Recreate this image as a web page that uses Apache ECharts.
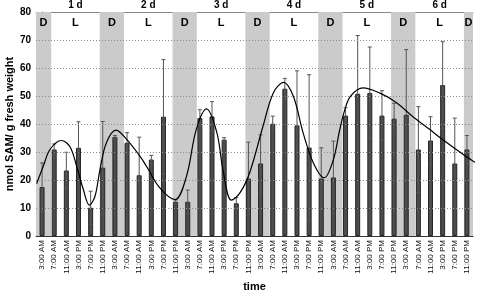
<!DOCTYPE html>
<html>
<head>
<meta charset="utf-8">
<script src="https://cdn.jsdelivr.net/npm/echarts@6/dist/echarts.min.js"></script>
<style>
  html, body { margin: 0; padding: 0; background: #fff; }
  #container { width: 477px; height: 291px; }
</style>
</head>
<body>
<div id="container"></div>
<script>
var dom = document.getElementById("container");
var myChart = echarts.init(dom);

// sampling times, repeated for each of the 6 days
var times = ['3:00 AM', '7:00 AM', '11:00 AM', '3:00 PM', '7:00 PM', '11:00 PM'];
var dayNames = ['1 d', '2 d', '3 d', '4 d', '5 d', '6 d'];

// mean SAM content per time point
var means = [17.5, 30.9, 23.4, 31.5, 10.1, 24.4,
             35.4, 33.3, 21.7, 27.3, 42.6, 12.2,
             12.2, 42.1, 42.7, 34.4, 11.7, 20.5,
             25.9, 40.1, 52.6, 39.5, 31.6, 20.5,
             20.9, 43.0, 50.8, 51.1, 43.0, 41.9,
             43.3, 30.9, 34.1, 53.9, 25.9, 30.9];
// error (+/-)
var errs = [8.6, 2.0, 6.5, 9.3, 5.9, 16.5,
            0.5, 3.6, 13.6, 1.5, 20.4, 0.7,
            4.2, 3.0, 5.3, 0.7, 2.0, 13.0,
            10.2, 2.7, 3.7, 19.5, 26.0, 11.0,
            13.0, 2.8, 20.8, 16.4, 8.9, 5.5,
            23.3, 15.3, 8.5, 15.5, 16.2, 5.0];

// fitted curve, x in category units (0 = first sample)
var curveX = [-0.45, 0.1, 0.65, 1.6, 2.3, 2.85, 3.4, 3.9, 4.36, 4.77, 5.3, 6.1, 6.97, 8.06, 8.6, 9.7, 10.95,
              11.9, 12.7, 13.55, 14.4, 14.9, 15.6, 16.3, 17.1, 18.2, 19.05, 19.9, 20.7, 21.5, 22.35, 23.25,
              24.0, 24.5, 24.9, 25.4, 26.45, 27.8, 29.2, 30.55, 31.95, 32.8, 34.7, 35.8];
var curveY = [18.7, 24.9, 30.9, 34.1, 31.9, 24.9, 16.6, 11.0, 14.2, 23.7, 33.3, 37.8, 34.5, 28.5, 24.9, 17.2, 13.0,
              21.4, 38.0, 45.4, 36.9, 23.7, 12.8, 15.4, 22.6, 39.2, 51.1, 54.9, 49.9, 36.9, 26.1, 20.8,
              27.3, 37.5, 44.5, 49.9, 52.9, 51.1, 47.6, 42.6, 38.0, 35.1, 29.1, 25.9];

// dark periods (start, end) in category units
var darkStart = [-0.5, 4.75, 10.75, 16.75, 22.75, 28.75, 34.75];
var darkEnd = [0.75, 6.75, 12.75, 18.75, 24.75, 30.75, 35.5];

var font = "'Liberation Sans', Arial, sans-serif";

var categories = [];
for (var d = 0; d < dayNames.length; d++) {
    for (var t = 0; t < times.length; t++) categories.push(times[t]);
}

var errData = means.map(function (m, i) { return [i, m - errs[i], m + errs[i]]; });
var curveData = curveX.map(function (x, i) { return [x, curveY[i]]; });

var periods = [];
for (var k = 0; k < darkStart.length; k++) {
    periods.push([darkStart[k], darkEnd[k], 'D', '']);
    if (k < dayNames.length) periods.push([darkEnd[k], darkStart[k + 1], 'L', dayNames[k]]);
}

var option = {
    animation: false,
    grid: {left: 36, right: 4, top: 12, bottom: 55, outerBoundsMode: 'none', containLabel: false},
    xAxis: [
        {
            type: 'category',
            data: categories,
            axisTick: {show: false},
            axisLine: {lineStyle: {color: '#333', width: 1}},
            axisLabel: {rotate: 90, fontSize: 8, color: '#111', margin: 4, fontFamily: font, interval: 0},
            name: 'time',
            nameLocation: 'middle',
            nameGap: 41,
            nameTextStyle: {fontSize: 11, fontWeight: 'bold', color: '#000', fontFamily: font}
        },
        {
            type: 'value',
            min: -0.5,
            max: 35.5,
            position: 'top',
            axisLine: {show: true, onZero: false, lineStyle: {color: '#888', width: 1}},
            axisTick: {show: false},
            axisLabel: {show: false},
            splitLine: {show: false}
        }
    ],
    yAxis: {
        type: 'value',
        min: 0,
        max: 80,
        interval: 10,
        axisLine: {show: true, lineStyle: {color: '#333', width: 1}},
        axisTick: {show: true, length: 3, lineStyle: {color: '#333'}},
        splitLine: {show: false},
        axisLabel: {fontSize: 10, fontWeight: 'bold', color: '#000', margin: 5, fontFamily: font},
        name: 'nmol SAM/ g fresh weight',
        nameLocation: 'middle',
        nameGap: 21,
        nameRotate: 90,
        nameMoveOverlap: false,
        nameTextStyle: {fontSize: 11, fontWeight: 'bold', color: '#000', fontFamily: 'Liberation Sans'}
    },
    series: [
        {
            // light/dark bands with D / L and day labels
            type: 'custom',
            xAxisIndex: 1,
            z: 1,
            silent: true,
            data: periods,
            renderItem: function (params, api) {
                var a = api.coord([api.value(0), 80]);
                var b = api.coord([api.value(1), 0]);
                var kind = periods[params.dataIndex][2];
                var day = periods[params.dataIndex][3];
                var cx = (a[0] + b[0]) / 2;
                var children = [];
                if (kind === 'D') {
                    children.push({type: 'rect', shape: {x: a[0], y: a[1], width: b[0] - a[0], height: b[1] - a[1]},
                        style: {fill: '#cbcbcb'}});
                }
                children.push({type: 'text', x: cx, y: a[1] + 11,
                    style: {text: kind, fill: '#000', font: 'bold 11px ' + font, align: 'center', verticalAlign: 'middle'}});
                if (day) {
                    children.push({type: 'text', x: cx, y: a[1] - 7,
                        style: {text: day, fill: '#000', font: 'bold 10px ' + font, align: 'center', verticalAlign: 'middle'}});
                }
                return {type: 'group', children: children};
            }
        },
        {
            // dotted gridlines above the bands
            type: 'line',
            xAxisIndex: 1,
            z: 2,
            data: [],
            markLine: {
                silent: true,
                symbol: 'none',
                label: {show: false},
                lineStyle: {color: '#8a8a8a', type: [1, 2], width: 1},
                data: [{yAxis: 10}, {yAxis: 20}, {yAxis: 30}, {yAxis: 40}, {yAxis: 50}, {yAxis: 60}, {yAxis: 70}]
            }
        },
        {
            type: 'bar',
            z: 3,
            barWidth: 5,
            data: means,
            itemStyle: {color: '#4c4c4c', borderColor: '#262626', borderWidth: 1}
        },
        {
            type: 'custom',
            z: 4,
            data: errData,
            encode: {x: 0, y: [1, 2]},
            renderItem: function (params, api) {
                var lo = api.coord([api.value(0), api.value(1)]);
                var hi = api.coord([api.value(0), api.value(2)]);
                var w = 2;
                var st = {stroke: '#555', lineWidth: 1};
                return {type: 'group', children: [
                    {type: 'line', shape: {x1: lo[0], y1: lo[1], x2: hi[0], y2: hi[1]}, style: st},
                    {type: 'line', shape: {x1: hi[0] - w, y1: hi[1], x2: hi[0] + w, y2: hi[1]}, style: st},
                    {type: 'line', shape: {x1: lo[0] - w, y1: lo[1], x2: lo[0] + w, y2: lo[1]}, style: st}
                ]};
            }
        },
        {
            type: 'line',
            xAxisIndex: 1,
            z: 5,
            clip: false,
            smooth: 0.35,
            symbol: 'none',
            data: curveData,
            lineStyle: {color: '#000', width: 1.2}
        }
    ]
};

myChart.setOption(option);
</script>
</body>
</html>
